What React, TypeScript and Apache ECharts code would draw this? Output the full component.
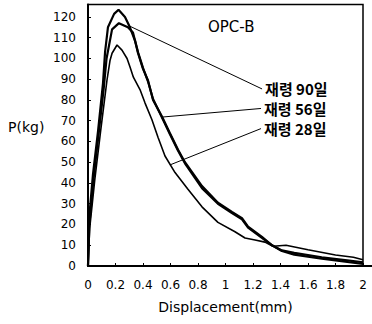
import React, { useEffect, useRef } from "react";
import * as echarts from "echarts";

// Displacement (mm) vs load P (kg)
const curve90: [number, number][] = [
  [0, 0], [0.007, 22], [0.036, 44], [0.073, 65], [0.109, 88], [0.124, 103], [0.145, 115],
  [0.19, 121.5], [0.222, 123.5], [0.269, 120], [0.305, 115], [0.342, 108.5], [0.364, 102.5],
  [0.4, 95], [0.436, 89.5], [0.473, 80], [0.538, 72], [0.596, 64], [0.655, 56], [0.705, 50],
  [0.829, 38.5], [0.945, 30.5], [1.047, 26], [1.12, 23], [1.164, 19], [1.265, 14], [1.338, 10],
  [1.41, 7.5], [1.5, 6.3], [1.7, 4.2], [1.9, 2.6], [2.0, 1.8],
];
const curve56: [number, number][] = [
  [0, 0], [0.01, 20], [0.04, 42], [0.078, 64], [0.115, 86], [0.135, 100], [0.175, 114],
  [0.225, 117], [0.29, 115], [0.327, 112.5], [0.364, 103], [0.4, 95.5], [0.436, 89],
  [0.473, 80.5], [0.538, 71.5], [0.596, 63.5], [0.655, 55.5], [0.705, 49.5], [0.829, 37.5],
  [0.945, 30], [1.047, 25.5], [1.12, 22.5], [1.164, 18.5], [1.265, 13.5], [1.338, 10],
  [1.41, 7.2], [1.5, 5.5], [1.7, 3.5], [1.9, 1.8], [2.0, 1.0],
];
const curve28: [number, number][] = [
  [0, 0], [0.012, 18], [0.05, 42], [0.09, 64], [0.138, 89.5], [0.16, 99], [0.175, 102.5],
  [0.211, 106.5], [0.247, 104], [0.284, 100], [0.305, 96], [0.33, 91], [0.378, 85],
  [0.415, 78.5], [0.465, 70.5], [0.509, 62], [0.56, 53], [0.633, 45], [0.727, 37],
  [0.829, 28.5], [0.945, 21], [1.069, 16.5], [1.142, 13.5], [1.215, 12.5], [1.287, 11.5],
  [1.345, 9.5], [1.44, 10], [1.6, 7.8], [1.8, 5.3], [1.93, 4.2], [2.0, 3.0],
];

// leader lines (from curve to label), in data units
const lead90: [number, number][] = [[0.29, 116], [1.266, 85.3]];
const lead56: [number, number][] = [[0.545, 71.8], [1.258, 75.9]];
const lead28: [number, number][] = [[0.596, 48.7], [1.258, 66.2]];
const leadLabels = ["재령 90일", "재령 56일", "재령 28일"];

const titleText = "OPC-B";
const yTitle = "P(kg)";
const xTitle = "Displacement(mm)";

export default function App() {
  const ref = useRef<HTMLDivElement>(null);
  useEffect(() => {
    if (!ref.current) return;
    document.body.style.margin = "0";
    const chart = echarts.init(ref.current, null, { renderer: "svg" });
    const tickFont = { color: "#000", fontFamily: "DejaVu Sans", fontSize: 12 };
    const curveSeries = (data: [number, number][], w: number) => ({
      type: "line",
      data,
      symbol: "none",
      showSymbol: false,
      lineStyle: { color: "#000", width: w },
      silent: true,
    });
    const leadSeries = (data: [number, number][], text: string) => ({
      type: "line",
      data,
      symbol: "none",
      showSymbol: false,
      lineStyle: { color: "#000", width: 1 },
      silent: true,
      endLabel: {
        show: true,
        formatter: text,
        distance: 3,
        color: "#000",
        fontFamily: "Noto Sans CJK KR",
        fontWeight: "bold",
        fontSize: 15,
      },
    });
    chart.setOption({
      animation: false,
      backgroundColor: "#fff",
      title: {
        text: titleText,
        left: 208,
        top: 19,
        padding: 0,
        textStyle: { color: "#000", fontFamily: "DejaVu Sans", fontSize: 15, fontWeight: "normal" },
      },
      grid: {
        left: 88, right: 9, top: 4.5, bottom: 58,
        show: true, borderColor: "#000", borderWidth: 1.5,
      },
      xAxis: {
        type: "value",
        min: 0, max: 2, interval: 0.2,
        axisLine: { show: true, lineStyle: { color: "#000", width: 2 } },
        axisTick: { show: true, inside: true, length: 3, lineStyle: { color: "#000" } },
        axisLabel: { ...tickFont, margin: 13 },
        splitLine: { show: false },
        name: xTitle,
        nameLocation: "middle",
        nameGap: 34,
        nameTextStyle: { color: "#000", fontFamily: "DejaVu Sans", fontSize: 14 },
      },
      yAxis: {
        type: "value",
        min: 0, max: 126, interval: 10,
        axisLine: { show: true, lineStyle: { color: "#000", width: 2 } },
        axisTick: { show: true, inside: true, length: 3, lineStyle: { color: "#000" } },
        axisLabel: {
          ...tickFont,
          margin: 12,
          formatter: (v: number) => (Math.round(v) % 10 === 0 ? String(Math.round(v)) : ""),
        },
        splitLine: { show: false },
      },
      series: [
        curveSeries(curve90, 2.2),
        curveSeries(curve56, 2.2),
        curveSeries(curve28, 1.6),
        leadSeries(lead90, leadLabels[0]),
        leadSeries(lead56, leadLabels[1]),
        leadSeries(lead28, leadLabels[2]),
      ],
    });
    const p0 = chart.convertToPixel({ gridIndex: 0 }, [2, 0]) as number[];
    const pm = chart.convertToPixel({ gridIndex: 0 }, [0, 65]) as number[];
    chart.setOption({
      graphic: [
        {
          type: "line",
          shape: { x1: p0[0], y1: p0[1], x2: p0[0] + 9, y2: p0[1] },
          style: { stroke: "#000", lineWidth: 2 },
        },
        {
          type: "text",
          x: 8,
          y: pm[1] - 4,
          style: {
            text: yTitle,
            fill: "#000",
            font: "14px 'DejaVu Sans'",
            textVerticalAlign: "middle",
          },
        },
      ],
    });
    return () => chart.dispose();
  }, []);
  return <div ref={ref} style={{ width: 372, height: 324 }} />;
}
